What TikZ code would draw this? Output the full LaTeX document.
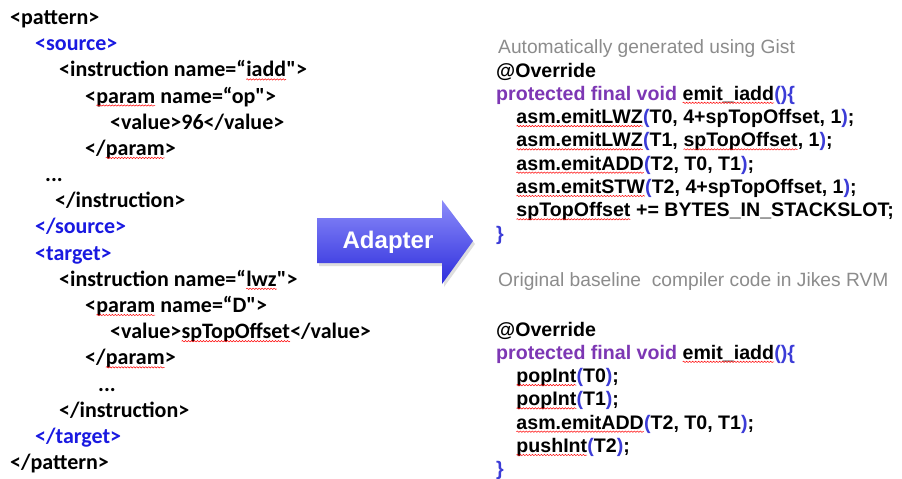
\documentclass[tikz,border=0pt]{standalone}
\usepackage{fontspec}
\setmainfont{Liberation Sans}
\newfontfamily\calibrifont{Carlito}
\usepackage{xcolor}
\usetikzlibrary{decorations.pathmorphing}

\definecolor{tagblue}{RGB}{25,25,225}
\definecolor{kwpurple}{RGB}{125,55,180}
\definecolor{parblue}{RGB}{60,60,215}
\definecolor{notegray}{RGB}{140,140,140}
\definecolor{arrowtop}{RGB}{140,140,250}
\definecolor{arrowbot}{RGB}{45,45,220}

% coloured pieces of the listings
\newcommand{\xmltag}[1]{\textcolor{tagblue}{#1}}
\newcommand{\pn}[1]{\textcolor{parblue}{#1}}
\newcommand{\kw}[1]{\textcolor{kwpurple}{#1}}
% red wavy underline of the spell checker
\newcommand{\spell}[1]{\tikz[baseline=(w.base)]{%
	\node[inner sep=0pt,outer sep=0pt,anchor=base west] (w) {#1};%
	\draw[red,line width=0.5pt,decorate,decoration={snake,amplitude=0.7pt,segment length=3pt}]
		([yshift=-2.5pt]w.base west) -- ([yshift=-2.5pt]w.base east);}}

\begin{document}
\begin{tikzpicture}
	[
	x=1pt, y=-1pt,
	xml/.style={
		anchor=base west,
		inner sep=0pt,
		font=\calibrifont\bfseries\fontsize{22}{22}\selectfont
	},
	code/.style={
		anchor=base west,
		inner sep=0pt,
		font=\bfseries\fontsize{19.6}{19.6}\selectfont
	},
	note/.style={
		anchor=base west,
		inner sep=0pt,
		text=notegray,
		font=\fontsize{19.2}{19.2}\selectfont
	}
	]
	
	\useasboundingbox[fill=white] (0,0) rectangle (902,479);
	
	% XML pattern
	\node[xml] (pattern_open) at (10,24.5) {<pattern>};
	\node[xml] (source_open) at (35,50.7) {\xmltag{<source>}};
	\node[xml] (src_instr_open) at (59,76.9) {<instruction name=“\spell{iadd}">};
	\node[xml] (src_param_open) at (85,103.0) {<\spell{param} name=“op">};
	\node[xml] (src_value) at (110,129.2) {<value>96</value>};
	\node[xml] (src_param_close) at (85,155.4) {</\spell{param}>};
	\node[xml] (src_dots) at (45,181.6) {...};
	\node[xml] (src_instr_close) at (55,207.8) {</instruction>};
	\node[xml] (source_close) at (35,233.9) {\xmltag{</source>}};
	\node[xml] (target_open) at (35,260.1) {\xmltag{<target>}};
	\node[xml] (tgt_instr_open) at (59,286.3) {<instruction name=“\spell{lwz}">};
	\node[xml] (tgt_param_open) at (85,312.5) {<\spell{param} name=“D">};
	\node[xml] (tgt_value) at (110,338.7) {<value>\spell{spTopOffset}</value>};
	\node[xml] (tgt_param_close) at (85,364.8) {</\spell{param}>};
	\node[xml] (tgt_dots) at (98,391.0) {...};
	\node[xml] (tgt_instr_close) at (59,417.2) {</instruction>};
	\node[xml] (target_close) at (35,443.4) {\xmltag{</target>}};
	\node[xml] (pattern_close) at (10,469.6) {</pattern>};
	
	% Adapter arrow
	\fill[black!25, opacity=0.5] (319,221) -- (444,221) -- (444,203) -- (475,244) -- (444,287) -- (444,266) -- (319,266) -- cycle;
	\shade[top color=arrowtop, bottom color=arrowbot]
		(317,218) -- (442,218) -- (442,200) -- (473,241) -- (442,284) -- (442,263) -- (317,263) -- cycle;
	\node[anchor=base, inner sep=0pt, text=white, font=\bfseries\fontsize{24}{24}\selectfont] (adapter) at (388,248) {Adapter};
	
	% Generated emitter
	\node[note] (gist_note) at (498,53) {Automatically generated using Gist};
	\node[code] (gist_override) at (496,77) {@Override};
	\node[code] (gist_head) at (496,100.3) {\kw{protected final void} \spell{emit\_iadd}\pn{()\{}};
	\node[code] (gist_l1) at (516,123.6) {\spell{asm.emitLWZ}\pn{(}T0, 4+spTopOffset, 1\pn{)};};
	\node[code] (gist_l2) at (516,146.9) {\spell{asm.emitLWZ}\pn{(}T1, \spell{spTopOffset}, 1\pn{)};};
	\node[code] (gist_l3) at (516,170.2) {\spell{asm.emitADD}\pn{(}T2, T0, T1\pn{)};};
	\node[code] (gist_l4) at (516,193.5) {\spell{asm.emitSTW}\pn{(}T2, 4+spTopOffset, 1\pn{)};};
	\node[code] (gist_l5) at (516,216.8) {\spell{spTopOffset} += BYTES\_IN\_STACKSLOT;};
	\node[code] (gist_end) at (496,240.1) {\pn{\}}};
	
	% Baseline compiler emitter
	\node[note] (jikes_note) at (498,286) {Original baseline\ \ compiler code in Jikes RVM};
	\node[code] (jikes_override) at (496,336) {@Override};
	\node[code] (jikes_head) at (496,359.3) {\kw{protected final void} \spell{emit\_iadd}\pn{()\{}};
	\node[code] (jikes_l1) at (516,382.6) {\spell{popInt}\pn{(}T0\pn{)};};
	\node[code] (jikes_l2) at (516,405.9) {\spell{popInt}\pn{(}T1\pn{)};};
	\node[code] (jikes_l3) at (516,429.2) {\spell{asm.emitADD}\pn{(}T2, T0, T1\pn{)};};
	\node[code] (jikes_l4) at (516,452.5) {\spell{pushInt}\pn{(}T2\pn{)};};
	\node[code] (jikes_end) at (496,475.8) {\pn{\}}};
	
\end{tikzpicture}
\end{document}
